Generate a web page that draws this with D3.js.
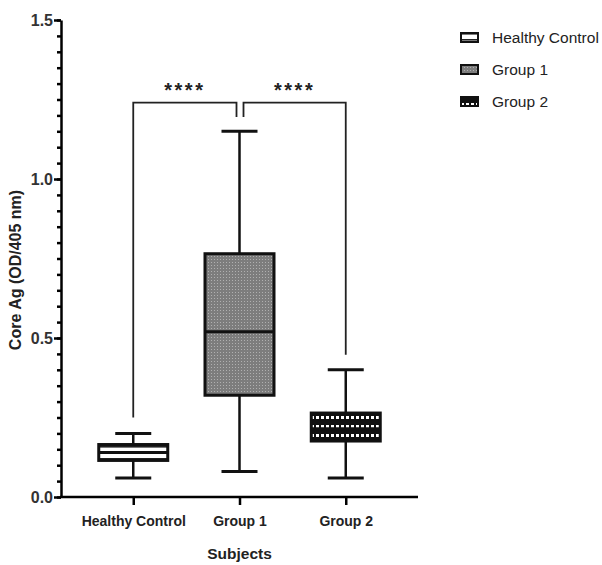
<!DOCTYPE html>
<html>
<head>
<script src="https://cdn.jsdelivr.net/npm/d3@7"></script>
<style>
  body { margin: 0; background: #fff; }
  text { font-family: "Liberation Sans", Arial, sans-serif; }
</style>
</head>
<body>
<script>
  var w = 602, h = 565;
  var margin = {top: 20, left: 61, bottom: 68, right: 184};

  // data
  var groups = ["Healthy Control", "Group 1", "Group 2"];
  var mins    = [0.06, 0.08, 0.06];
  var q1s     = [0.115, 0.32, 0.176];
  var medians = [0.14, 0.52, 0.215];
  var q3s     = [0.165, 0.765, 0.264];
  var maxs    = [0.20, 1.15, 0.40];
  var yTicks  = [0, 0.5, 1.0, 1.5];
  var sigLabels = ["****", "****"];
  var sigPairs  = [[0, 1], [1, 2]];
  var bracketTop = 1.24;
  var bracketEnds = [[0.25, 1.195], [1.195, 0.447]];

  var svg = d3.select("body").append("svg")
    .attr("width", w).attr("height", h);

  var defs = svg.append("defs");
  // healthy control: white with horizontal stripes
  var p0 = defs.append("pattern").attr("id", "pat0")
    .attr("patternUnits", "userSpaceOnUse").attr("width", 4).attr("height", 6);
  p0.append("rect").attr("width", 4).attr("height", 6).attr("fill", "#fff");
  p0.append("rect").attr("y", 2).attr("width", 4).attr("height", 1.6).attr("fill", "#222");
  // group 1: grey with fine dots
  var p1 = defs.append("pattern").attr("id", "pat1")
    .attr("patternUnits", "userSpaceOnUse").attr("width", 3).attr("height", 3);
  p1.append("rect").attr("width", 3).attr("height", 3).attr("fill", "#7d7d7d");
  p1.append("rect").attr("x", 1).attr("y", 1).attr("width", 1).attr("height", 1).attr("fill", "#b0b0b0");
  // group 2: black with white squares
  var p2 = defs.append("pattern").attr("id", "pat2")
    .attr("patternUnits", "userSpaceOnUse").attr("width", 5).attr("height", 9);
  p2.append("rect").attr("width", 5).attr("height", 9).attr("fill", "#111");
  p2.append("rect").attr("x", 1).attr("y", 2).attr("width", 3).attr("height", 3).attr("fill", "#fff");
  var fills = ["url(#pat0)", "url(#pat1)", "url(#pat2)"];

  var x = d3.scalePoint().domain(groups)
    .range([margin.left, w - margin.right]).padding(0.68);
  var y = d3.scaleLinear().domain([0, 1.5])
    .range([h - margin.bottom, margin.top]);

  // minor ticks
  var minor = d3.range(0, 1.5001, 0.05);
  svg.append("g")
    .attr("transform", "translate(" + margin.left + ",0)")
    .call(d3.axisLeft(y).tickValues(minor).tickSize(4).tickFormat(""))
    .call(function (g) {
      g.select(".domain").remove();
      g.selectAll("line").attr("stroke-width", 2.5);
    });

  var yAxis = svg.append("g")
    .attr("transform", "translate(" + margin.left + ",0)")
    .call(d3.axisLeft(y).tickValues(yTicks).tickSize(7).tickSizeOuter(0).tickFormat(d3.format(".1f")));
  yAxis.select(".domain").attr("stroke-width", 2.5);
  yAxis.selectAll("line").attr("stroke-width", 2.5);
  yAxis.selectAll("text").attr("font-size", 16).attr("font-weight", "bold")
    .attr("fill", "#333").attr("x", -8);

  var xAxis = svg.append("g")
    .attr("transform", "translate(0," + y(0) + ")")
    .call(d3.axisBottom(x).tickSize(8).tickSizeOuter(0));
  xAxis.select(".domain").attr("stroke-width", 2.5)
    .attr("d", "M" + (margin.left - 1) + ",0H" + (w - margin.right));
  xAxis.selectAll("line").attr("stroke-width", 2.5);
  xAxis.selectAll("text").attr("font-size", 14).attr("font-weight", "bold")
    .attr("fill", "#222").attr("y", 19);

  svg.append("text").attr("x", (margin.left + w - margin.right) / 2).attr("y", 559)
    .attr("text-anchor", "middle").attr("font-size", 15.5).attr("font-weight", "bold")
    .attr("fill", "#222").text("Subjects");

  svg.append("text")
    .attr("transform", "translate(21," + 270 + ") rotate(-90)")
    .attr("text-anchor", "middle").attr("font-size", 16).attr("font-weight", "bold")
    .attr("fill", "#222").text("Core Ag (OD/405 nm)");

  // box plots
  var bw = 69, cap = 36;
  groups.forEach(function (g, i) {
    var cx = x(g);
    var gg = svg.append("g");
    gg.append("line").attr("x1", cx).attr("x2", cx)
      .attr("y1", y(maxs[i])).attr("y2", y(mins[i]))
      .attr("stroke", "#111").attr("stroke-width", 2.5);
    [mins[i], maxs[i]].forEach(function (v) {
      gg.append("line").attr("x1", cx - cap / 2).attr("x2", cx + cap / 2)
        .attr("y1", y(v)).attr("y2", y(v))
        .attr("stroke", "#111").attr("stroke-width", 3);
    });
    gg.append("rect").attr("x", cx - bw / 2).attr("width", bw)
      .attr("y", y(q3s[i])).attr("height", y(q1s[i]) - y(q3s[i]))
      .attr("fill", fills[i]).attr("stroke", "#111").attr("stroke-width", 3);
    gg.append("line").attr("x1", cx - bw / 2).attr("x2", cx + bw / 2)
      .attr("y1", y(medians[i])).attr("y2", y(medians[i]))
      .attr("stroke", "#111").attr("stroke-width", 3);
  });

  // significance brackets
  sigPairs.forEach(function (p, i) {
    var x1 = x(groups[p[0]]) + (i === 1 ? 4 : 0);
    var x2 = x(groups[p[1]]) - (i === 0 ? 3 : 0);
    svg.append("path")
      .attr("d", "M" + x1 + "," + y(bracketEnds[i][0]) + "V" + y(bracketTop) +
        "H" + x2 + "V" + y(bracketEnds[i][1]))
      .attr("fill", "none").attr("stroke", "#222").attr("stroke-width", 1.8);
    svg.append("text").attr("x", (x1 + x2) / 2).attr("y", y(bracketTop) - 6)
      .attr("text-anchor", "middle").attr("font-size", 20).attr("font-weight", "bold")
      .attr("letter-spacing", 2.5).attr("fill", "#222").text(sigLabels[i]);
  });

  // legend
  var legend = svg.append("g").attr("transform", "translate(460,37)");
  groups.forEach(function (g, i) {
    var row = legend.append("g").attr("transform", "translate(0," + (i * 32) + ")");
    row.append("rect").attr("x", 1).attr("y", -4).attr("width", 17).attr("height", 9)
      .attr("fill", fills[i]).attr("stroke", "#111").attr("stroke-width", 2);
    row.append("text").attr("x", 32).attr("y", 5.5).attr("font-size", 15.5)
      .attr("fill", "#222").text(g);
  });
</script>
</body>
</html>
